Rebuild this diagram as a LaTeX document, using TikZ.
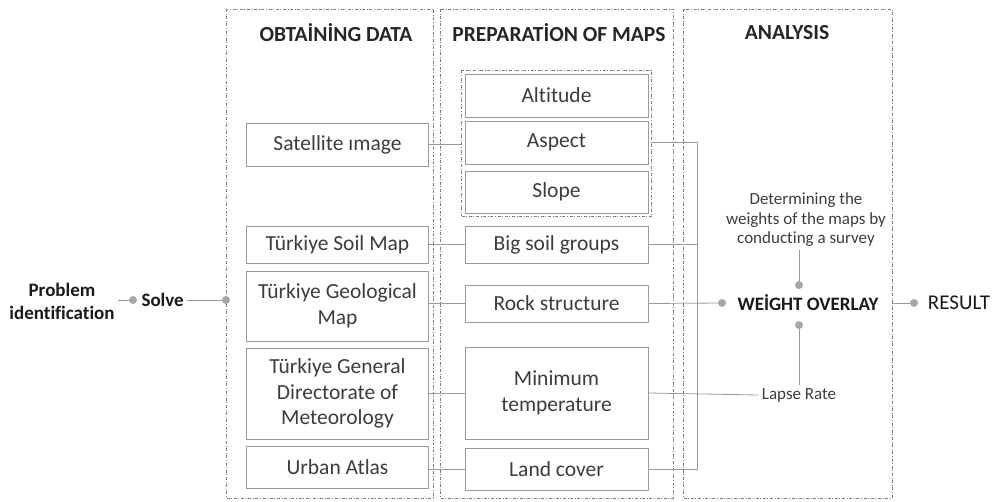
\documentclass[tikz,border=0pt]{standalone}
\usepackage{fontspec}
\setmainfont{Carlito}[Ligatures=NoCommon]
\usetikzlibrary{fit}
\definecolor{boxline}{HTML}{9A9A9A}
\definecolor{boxtext}{HTML}{3C3C3C}
\definecolor{frameline}{HTML}{7E7E7E}
\definecolor{dotgrey}{HTML}{A6A6A6}
\begin{document}
\begin{tikzpicture}[x=1pt,y=-1pt,
  stagebox/.style={draw=frameline,line width=0.7pt,
    dash pattern=on 3pt off 1.6pt on 1pt off 1.6pt},
  databox/.style={draw=boxline,line width=0.9pt,rectangle,minimum width=182pt,
    inner sep=2pt,align=center,text=boxtext,font=\fontsize{21.5}{25.5}\selectfont},
  mapbox/.style={databox,minimum width=183pt},
  title/.style={font=\bfseries\fontsize{21.5}{25}\selectfont,text=black!85},
  conn/.style={draw=boxline,line width=0.8pt},
  dot/.style={circle,fill=dotgrey,inner sep=0pt,minimum size=8pt},
  note/.style={font=\fontsize{17}{19.5}\selectfont,text=boxtext,align=center},
  keyword/.style={font=\bfseries\fontsize{19}{23}\selectfont,text=black!90,align=center}]
\useasboundingbox (0,0) rectangle (993,502);

% stage frames
\draw[stagebox] (226,9) rectangle (433,498);
\draw[stagebox] (440,9) rectangle (673,498);
\draw[stagebox] (683,9) rectangle (892,498);
\coordinate (frameA) at (226,300);
\coordinate (frameC) at (892,303);

\node[title] (tA) at (336,33) {OBTAİNİNG DATA};
\node[title] (tB) at (559,33) {PREPARATİON OF MAPS};
\node[title] (tC) at (787,33) {ANALYSIS};

% data sources
\node[databox,minimum height=43pt] (sat)   at (337.5,144.5) {Satellite ımage};
\node[databox,minimum height=37pt] (soil)  at (337.5,244.5) {Türkiye Soil Map};
\node[databox,minimum height=70pt] (geo)   at (337.5,306)   {Türkiye Geological\\Map};
\node[databox,minimum height=91pt] (met)   at (337.5,393.5) {Türkiye General\\Directorate of\\Meteorology};
\node[databox,minimum height=42pt] (urban) at (337.5,467)   {Urban Atlas};

% derived maps
\node[mapbox,minimum height=43pt] (alt)   at (556.5,95.5)  {Altitude};
\node[mapbox,minimum height=43pt] (asp)   at (556.5,142.5) {Aspect};
\node[mapbox,minimum height=42pt] (slope) at (556.5,192)   {Slope};
\node[stagebox,fit=(alt)(asp)(slope),inner sep=3pt] (topo) {};
\node[mapbox,minimum height=37pt] (soilg) at (556.5,244.5) {Big soil groups};
\node[mapbox,minimum height=37pt] (rock)  at (556.5,303.5) {Rock structure};
\node[mapbox,minimum height=92pt] (mint)  at (556.5,393)   {Minimum\\temperature};
\node[mapbox,minimum height=42pt] (land)  at (556.5,469)   {Land cover};

% analysis
\node[keyword] (wo) at (808,303) {WEİGHT OVERLAY};
\node[note] (survey) at (806,220) {Determining the\\weights of the maps by\\conducting a survey};
\node[note] (lapse) at (799,395) {Lapse Rate};
\node[dot] (dL) at (722,303) {};
\node[dot] (dT) at (799,285) {};
\node[dot] (dB) at (799,325) {};
\node[dot] (dR) at (914,303) {};
\node[font=\fontsize{21}{25}\selectfont,text=black!90] (res) at (959,303) {RESULT};

% problem side
\node[keyword] (prob) at (62,301) {Problem\\identification};
\node[dot] (dP) at (133,300) {};
\node[keyword,anchor=west] (solve) at (138,300) {Solve};
\node[dot] (dS) at (frameA) {};

% connectors
\draw[conn] (prob.east |- dP) -- (dP);
\draw[conn] (solve.east) -- (dS);

\draw[conn] (sat.east) -- (sat.east -| topo.west);
\draw[conn] (soil.east) -- (soilg.west);
\draw[conn] (geo.east |- rock) -- (rock.west);
\draw[conn] (met.east |- mint) -- (mint.west);
\draw[conn] (urban.east |- land) -- (land.west);

\coordinate (bus) at (697,0);
\draw[conn] (topo.east |- asp) -- (bus |- asp) -- (bus |- land) -- (land.east);
\draw[conn] (soilg.east) -- (bus |- soilg);
\draw[conn] (rock.east) -- (dL);
\draw[conn] (mint.east) -- (lapse.west);
\draw[conn] (lapse.north) -- (dB);
\draw[conn] (survey.south -| dT) -- (dT);
\draw[conn] (frameC) -- (dR);
\end{tikzpicture}
\end{document}
